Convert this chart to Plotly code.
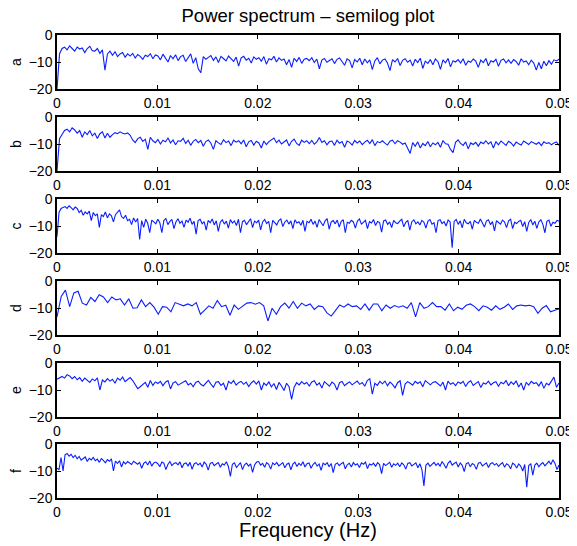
import numpy as np
import plotly.graph_objects as go
from plotly.subplots import make_subplots

panel_names = ["a", "b", "c", "d", "e", "f"]
x_ticks = [0, 0.01, 0.02, 0.03, 0.04, 0.05]
x_tick_labels = ["0", "0.01", "0.02", "0.03", "0.04", "0.05"]
y_ticks = [0, -10, -20]
y_tick_labels = ["0", "\u221210", "\u221220"]
f_max = 0.05

a_vals = [
    -20, -7, -5, -4.5, -5.5, -4, -5, -6, -4.5, -5.2,
    -4.8, -6.5, -5, -4.2, -5.8, -6, -5, -6.8, -5.5, -13,
    -7, -6, -7.5, -6.2, -8, -7, -6.5, -8.2, -7, -7.8,
    -6.8, -8.5, -7.2, -7.9, -9, -7.5, -8, -6.9, -8.8, -7.4,
    -7.8, -9.2, -7.1, -8.5, -10, -7.6, -8.8, -7.3, -9.5, -8,
    -7.5, -9.8, -8.2, -7, -10.5, -8.4, -12.5, -14, -8, -9,
    -8.3, -7.6, -9.4, -8.1, -10.2, -7.9, -8.7, -9.6, -7.8, -8.9,
    -9.8, -8.2, -11.5, -8.5, -7.9, -9.3, -8.6, -10.4, -8.1, -9,
    -8.4, -9.7, -8, -10.8, -8.8, -9.2, -7.9, -10, -8.5, -9.4,
    -8.9, -11, -9.1, -12, -8.6, -9.8, -8.3, -10.5, -9, -8.7,
    -9.5, -8.4, -10.2, -8.9, -12.5, -9.3, -8.7, -10.1, -9.4, -8.8,
    -10.6, -9, -8.5, -9.9, -11.2, -8.8, -9.5, -12.2, -9.1, -10,
    -8.6, -11, -8.9, -10.3, -9.2, -12.8, -9.6, -8.4, -10.7, -9.3,
    -8.9, -10.4, -13.2, -9.1, -10, -8.7, -11.3, -9.4, -8.8, -10.1,
    -9.3, -11.5, -9, -10.2, -8.6, -12.4, -9.7, -10.5, -9.1, -11,
    -8.9, -9.8, -12.7, -9.2, -10.3, -8.7, -11.8, -9.5, -10, -9.1,
    -10.4, -8.8, -11.2, -9.6, -10.1, -8.9, -9.7, -12, -9.3, -10.2,
    -8.7, -11.4, -9.5, -10, -9, -11.6, -9.4, -8.9, -10.3, -9.2,
    -10.5, -9.1, -9.8, -11.2, -8.8, -10, -9.6, -11, -9.3, -10.4,
    -13, -10.2, -12.5, -9.7, -11.4, -9.5, -10.8, -9.2, -9.6, -9,
]

b_vals = [
    -20, -8, -6.5, -5, -4.5, -5.5, -4, -4.8, -6, -5,
    -7.5, -5.5, -6.5, -5, -7, -6, -8, -6.2, -5.5, -7.8,
    -6, -7.5, -6.5, -5.8, -6.2, -5.5, -6, -6.3, -5.9, -6.8,
    -8.5, -9.5, -8, -7.5, -9, -8.2, -12, -7.5, -8.8, -9.5,
    -8.3, -10, -8.6, -9.2, -7.8, -9.6, -8.5, -10.3, -8.8, -9,
    -7.9, -9.8, -8.6, -10.5, -9, -8.3, -9.5, -8.7, -10.8, -9.1,
    -8.5, -9.7, -12, -8.8, -9.6, -10.2, -8.4, -9.5, -8.9, -10.6,
    -8.6, -9.3, -8.8, -9.9, -8.5, -11, -9.2, -8.7, -10.4, -9,
    -9.6, -11.5, -8.9, -10.2, -9.1, -8.4, -7.8, -9.5, -8.6, -10,
    -9.3, -8.5, -10.7, -9, -8.2, -9.8, -10.5, -8.6, -9.4, -8.8,
    -9.9, -8.7, -10.1, -9.2, -7.6, -9.4, -8.8, -10.3, -9.1, -8.9,
    -10.5, -8.6, -9.7, -9.1, -11.2, -8.9, -9.4, -10.4, -8.7, -9.6,
    -8.9, -10.2, -9.3, -8.6, -9.8, -8.4, -10.6, -9.1, -9.5, -8.8,
    -9.7, -10.4, -9, -8.6, -9.9, -8.8, -9.3, -10.1, -9.6, -11.8,
    -13.5, -9.5, -10.8, -9.2, -11.5, -9.8, -10.6, -9.1, -11, -9.6,
    -10.3, -9.4, -11.2, -8.7, -9.9, -10.1, -12, -13.2, -9.4, -8.5,
    -9.8, -10.5, -9.2, -11.8, -9.6, -10.2, -9.4, -10.8, -9.3, -9.9,
    -8.8, -10, -9.2, -11.5, -9.1, -10.3, -8.9, -9.7, -10.5, -9,
    -9.6, -10.8, -9.3, -9.9, -10.4, -8.9, -9.5, -10.2, -9.1, -9.7,
    -10.1, -9.4, -10.6, -9.2, -9.8, -9.5, -10.3, -9.6, -9.2, -10.5,
]

c_vals = [
    -14, -5, -3.5, -3, -2.8, -3.5, -2.5, -3.2, -4, -3,
    -3.5, -5, -4.2, -6, -4.8, -5.5, -4.5, -8, -5, -6.2,
    -5.5, -10.5, -5.8, -6.5, -4.8, -7, -5.5, -6.2, -8.5, -5.8,
    -5, -4, -6.5, -7.2, -6, -8, -7.5, -9.5, -7, -8.5,
    -7.2, -15, -8, -10.5, -7.5, -9, -12.5, -7.8, -8.5, -9.2,
    -7.5, -8.8, -12.5, -8, -7.2, -9.5, -8.3, -7.6, -11, -8.5,
    -7.3, -9, -8.2, -10.5, -7.8, -8.6, -7.1, -9.4, -8.3, -13,
    -8, -7.5, -9.2, -8.4, -11.5, -7.9, -8.8, -7.4, -9.6, -8.1,
    -12, -8.6, -7.7, -9.3, -8.2, -10.8, -7.6, -8.9, -8.1, -9.8,
    -7.5, -12.5, -8.4, -7.9, -9.5, -8.6, -7.3, -10.6, -8.2, -8.8,
    -7.8, -11.4, -8.5, -7.6, -9.1, -8.3, -12.5, -7.9, -8.7, -9.6,
    -8, -7.4, -10.2, -8.5, -7.8, -9.3, -8.1, -11, -7.7, -8.9,
    -8.4, -9.7, -7.9, -12, -8.3, -8.8, -7.5, -9.4, -8.2, -10.5,
    -7.6, -8.7, -9.9, -8.1, -7.3, -11.2, -8.5, -8, -9.2, -7.8,
    -10.4, -8.3, -7.7, -12.5, -8.6, -9, -7.9, -8.5, -10.8, -8.2,
    -7.4, -9.3, -8.7, -7.9, -11, -8.4, -8.9, -7.6, -9.8, -8.3,
    -8.7, -12.3, -8.1, -7.8, -9.4, -8.5, -10.6, -7.9, -8.8, -9.1,
    -8.2, -7.5, -10.3, -8.6, -8, -11.5, -8.4, -7.7, -9.2, -8.5,
    -9.6, -7.9, -8.6, -10.8, -8.2, -7.6, -9.3, -8.8, -12.5, -8,
    -7.7, -9.1, -8.4, -10, -7.8, -8.5, -18, -8.3, -7.6, -9.4,
    -8.1, -10.7, -7.5, -8.8, -9.2, -8.3, -11.2, -7.9, -8.6, -9,
    -7.4, -8.9, -10.4, -8.2, -7.7, -9.5, -8.4, -11.8, -8, -8.7,
    -9.3, -7.8, -8.5, -10.6, -8.1, -7.5, -11, -8.6, -9.1, -8.3,
    -7.9, -10.2, -8.4, -12, -8.7, -7.6, -9.6, -8.2, -10.9, -8.5,
    -7.7, -9.4, -12.5, -8.3, -7.8, -10.1, -8.6, -9, -7.9, -8.2,
]

d_vals = [
    -13.3, -5.7, -3.4, -9.5, -4.4, -3.8, -8.2, -8.9, -6.1, -7.6,
    -5.1, -5.9, -8, -5.9, -7, -6.6, -8.9, -6.6, -10.1, -9.9,
    -7, -9.5, -8, -9.7, -12.3, -9.5, -9.7, -11.4, -8, -8.5,
    -9.2, -8.5, -9.2, -8, -12.3, -10.8, -9.2, -10.1, -7.2, -9.5,
    -9, -12.7, -8.9, -10.5, -9.5, -8.2, -8, -8.6, -8, -9.2,
    -14.8, -10.1, -12.3, -9.5, -8.2, -10, -7.6, -10.1, -8.2, -9.2,
    -8.5, -10.5, -9.2, -9.5, -11.8, -13, -11, -8.9, -9.7, -8.5,
    -9.5, -9.2, -10.5, -8.5, -10.8, -8.5, -8.5, -11, -8.9, -10.1,
    -9.1, -9.7, -9.2, -10.1, -8, -13.3, -8, -10.1, -9.5, -8,
    -9.5, -9.5, -10.8, -8.5, -11, -9.7, -10.5, -9, -8.5, -9.5,
    -11, -9.2, -9.7, -10.8, -9.2, -10.5, -9.7, -8.5, -10.5, -9.2,
    -8.9, -9.2, -9, -9.5, -12, -10.1, -9.1, -11.4, -10.8, -10.3,
]

e_vals = [
    -6, -5.5, -5, -5.6, -4.3, -4.8, -5.8, -5, -6.2, -5.4,
    -6.8, -5.6, -6.4, -7.2, -5.9, -6.6, -5.5, -10, -6.3, -7,
    -5.8, -6.7, -6, -7.5, -5.6, -6.4, -5.2, -6.9, -6.1, -5.4,
    -6.5, -7.8, -9.5, -8.8, -8, -7.2, -9, -6.5, -8.3, -7,
    -7.6, -6.8, -8.4, -7.1, -6.5, -9.6, -7.4, -6.9, -8.2, -7.7,
    -7, -6.6, -8.1, -7.5, -8.8, -7.2, -6.7, -7.9, -8.5, -7.3,
    -6.4, -7.8, -9, -7.1, -6.9, -8.3, -7.5, -10, -6.8, -7.6,
    -6.5, -8.2, -7.3, -6.8, -7.9, -7.1, -8.7, -7.4, -6.6, -7.8,
    -6.6, -10, -7.4, -8.3, -7, -8.9, -7.6, -9.8, -7.2, -8.5,
    -10.2, -7.5, -8.8, -13.5, -9, -7.3, -8.1, -6.9, -7.8, -7.2,
    -8.5, -7, -6.6, -8.2, -7.4, -9.3, -6.9, -7.7, -8.6, -7.1,
    -7.8, -10, -7.3, -6.8, -8.4, -7.6, -7, -8.1, -7.4, -6.7,
    -7.9, -7.2, -8.6, -6.5, -5.8, -11.5, -7.5, -8.3, -6.8, -7.7,
    -6.7, -8.4, -7.1, -7.9, -9.2, -7.3, -6.6, -12, -7.8, -6.9,
    -7.5, -8.2, -6.8, -7.6, -7, -8.8, -6.5, -7.4, -8.1, -7.2,
    -6.9, -7.7, -8.5, -7.1, -10, -6.7, -7.9, -7.3, -8.4, -7,
    -7.6, -6.8, -8.7, -7.2, -6.6, -8.3, -7.5, -6.9, -9.1, -7.4,
    -7.8, -6.7, -8.1, -7.3, -6.9, -8.6, -7.1, -7.7, -6.5, -8.4,
    -7, -7.9, -6.6, -8.9, -7.4, -10, -7.2, -8.2, -6.8, -7.6,
    -7.3, -8.5, -6.9, -9.4, -7.5, -8.1, -6.7, -5.2, -9, -7.4,
]

f_vals = [
    -9, -9.5, -5, -10, -4, -3.5, -4.5, -3.8, -5, -4.2,
    -5.5, -4.6, -6, -5.2, -4.8, -6.5, -5.3, -5.9, -5, -6.2,
    -5.6, -6.8, -5.4, -6.1, -7, -5.8, -6.4, -5.5, -10, -6.3,
    -7.2, -6.2, -8.5, -6.6, -7.4, -6.5, -7, -7.6, -6.4, -7.1,
    -7.5, -6.8, -9, -7.2, -6.6, -7.8, -6.3, -8.2, -7, -6.7,
    -7.3, -8.4, -6.7, -7.1, -9.5, -7.6, -6.5, -8, -7.2, -6.9,
    -7.7, -6.6, -8.8, -7.3, -7, -8.1, -6.8, -9.4, -7.4, -6.9,
    -7.8, -7.1, -8.5, -6.7, -7.5, -9.7, -7.2, -6.8, -8, -7.4,
    -6.9, -8.6, -7.3, -7.8, -6.6, -8.3, -12, -7.5, -7, -8.7,
    -7.6, -6.9, -9.5, -7.7, -7.1, -8.2, -7.4, -10.5, -7.8, -6.7,
    -6.5, -7.8, -7.2, -8.6, -6.9, -7.5, -9.3, -7, -7.7, -6.8,
    -8.1, -7.3, -6.9, -8.8, -7.5, -7.1, -9.6, -7.4, -6.7, -8.3,
    -7.2, -7.9, -6.6, -8.5, -7.3, -7, -9, -7.6, -6.8, -8.2,
    -7.4, -9.8, -7.1, -7.7, -6.9, -8.4, -7.2, -10.6, -7.5, -7,
    -8, -7.3, -6.8, -9.2, -7.6, -7.1, -8.5, -6.9, -7.8, -7.3,
    -8.7, -7, -7.5, -6.7, -9.1, -7.4, -7.8, -7.1, -8.3, -6.9,
    -7.6, -11, -7.2, -8, -7.4, -6.8, -8.6, -7.3, -7.9, -7.1,
    -8.4, -7, -7.7, -9.3, -7.2, -6.9, -8.1, -7.5, -7, -8.8,
    -7.3, -9.5, -15.5, -7.8, -7.1, -8.3, -7.4, -6.8, -7.9, -7.2,
    -8.2, -6.5, -7.6, -9, -7.1, -6.3, -7.8, -7.4, -6.7, -8.5,
    -7, -7.9, -10.2, -7.3, -6.9, -8.4, -7.2, -7.7, -9.4, -7.1,
    -6.8, -8.1, -7.4, -7, -8.7, -7.3, -6.9, -7.8, -7.2, -8.3,
    -7.5, -6.9, -8.6, -7.3, -7.8, -9.2, -7.1, -7.6, -8.9, -7.4,
    -8.2, -10, -7.6, -16, -8, -7.3, -11.5, -7.8, -7.1, -8.4,
    -7.5, -6.9, -8.1, -7.3, -6.4, -7.6, -5.8, -7.2, -9.5, -7.8,
]

series = [a_vals, b_vals, c_vals, d_vals, e_vals, f_vals]

# ---- layout (pixel geometry; the page has an 8px body margin) ----
OFF = 8
W, H = 577 - OFF, 546 - OFF
plot_left, plot_right = 57 - OFF, 559 - OFF
panel_tops = [t - OFF for t in [35, 117, 199, 281, 363, 444]]
panel_h = 54
m_t = panel_tops[0]
m_b = H - (panel_tops[-1] + panel_h)
area_h = H - m_t - m_b

fig = make_subplots(rows=6, cols=1)
FONT = "Liberation Sans, Arial, Helvetica, sans-serif"

for i, vals in enumerate(series):
    n = len(vals)
    xs = np.linspace(0, f_max, n)
    fig.add_trace(go.Scatter(x=xs, y=vals, mode="lines",
                             line=dict(color="#0a1eff", width=1.1),
                             showlegend=False, hoverinfo="skip"),
                  row=i + 1, col=1)
    top = panel_tops[i]
    bot = top + panel_h
    dom = [(H - m_b - bot) / area_h, (H - m_b - top) / area_h]
    sfx = "" if i == 0 else str(i + 1)
    fig.layout["xaxis" + sfx].update(
        range=[0, f_max], tickvals=x_ticks, ticktext=x_tick_labels,
        ticks="inside", ticklen=4, tickcolor="black", showline=True,
        linecolor="black", linewidth=1.5, mirror="ticks", showgrid=False,
        zeroline=False, automargin=False,
        tickfont=dict(size=14, color="black", family=FONT))
    fig.layout["yaxis" + sfx].update(
        domain=dom, range=[-20, 0], tickvals=y_ticks, ticktext=y_tick_labels,
        ticks="inside", ticklen=4, tickcolor="black", showline=True,
        linecolor="black", linewidth=1.5, mirror="ticks", showgrid=False,
        zeroline=False, automargin=False,
        tickfont=dict(size=14, color="black", family=FONT),
        title=dict(text=panel_names[i], standoff=10,
                   font=dict(size=14, color="black", family=FONT)))

fig.update_layout(
    width=W, height=H,
    margin=dict(l=plot_left, r=W - plot_right, t=m_t, b=m_b, pad=0),
    paper_bgcolor="white", plot_bgcolor="white",
    font=dict(family=FONT, color="black"),
    title=dict(text="Power spectrum \u2013 semilog plot",
               x=(plot_left + plot_right) / 2 / W,
               xanchor="center", y=1 - (16 - OFF) / H, yanchor="middle",
               font=dict(size=18.5, color="black", family=FONT)),
)
fig.add_annotation(text="Frequency (Hz)", xref="paper", yref="paper",
                   x=0.5, y=-32 / area_h, xanchor="center", yanchor="middle",
                   showarrow=False, font=dict(size=20, color="black", family=FONT))

fig.write_html("out.html")
